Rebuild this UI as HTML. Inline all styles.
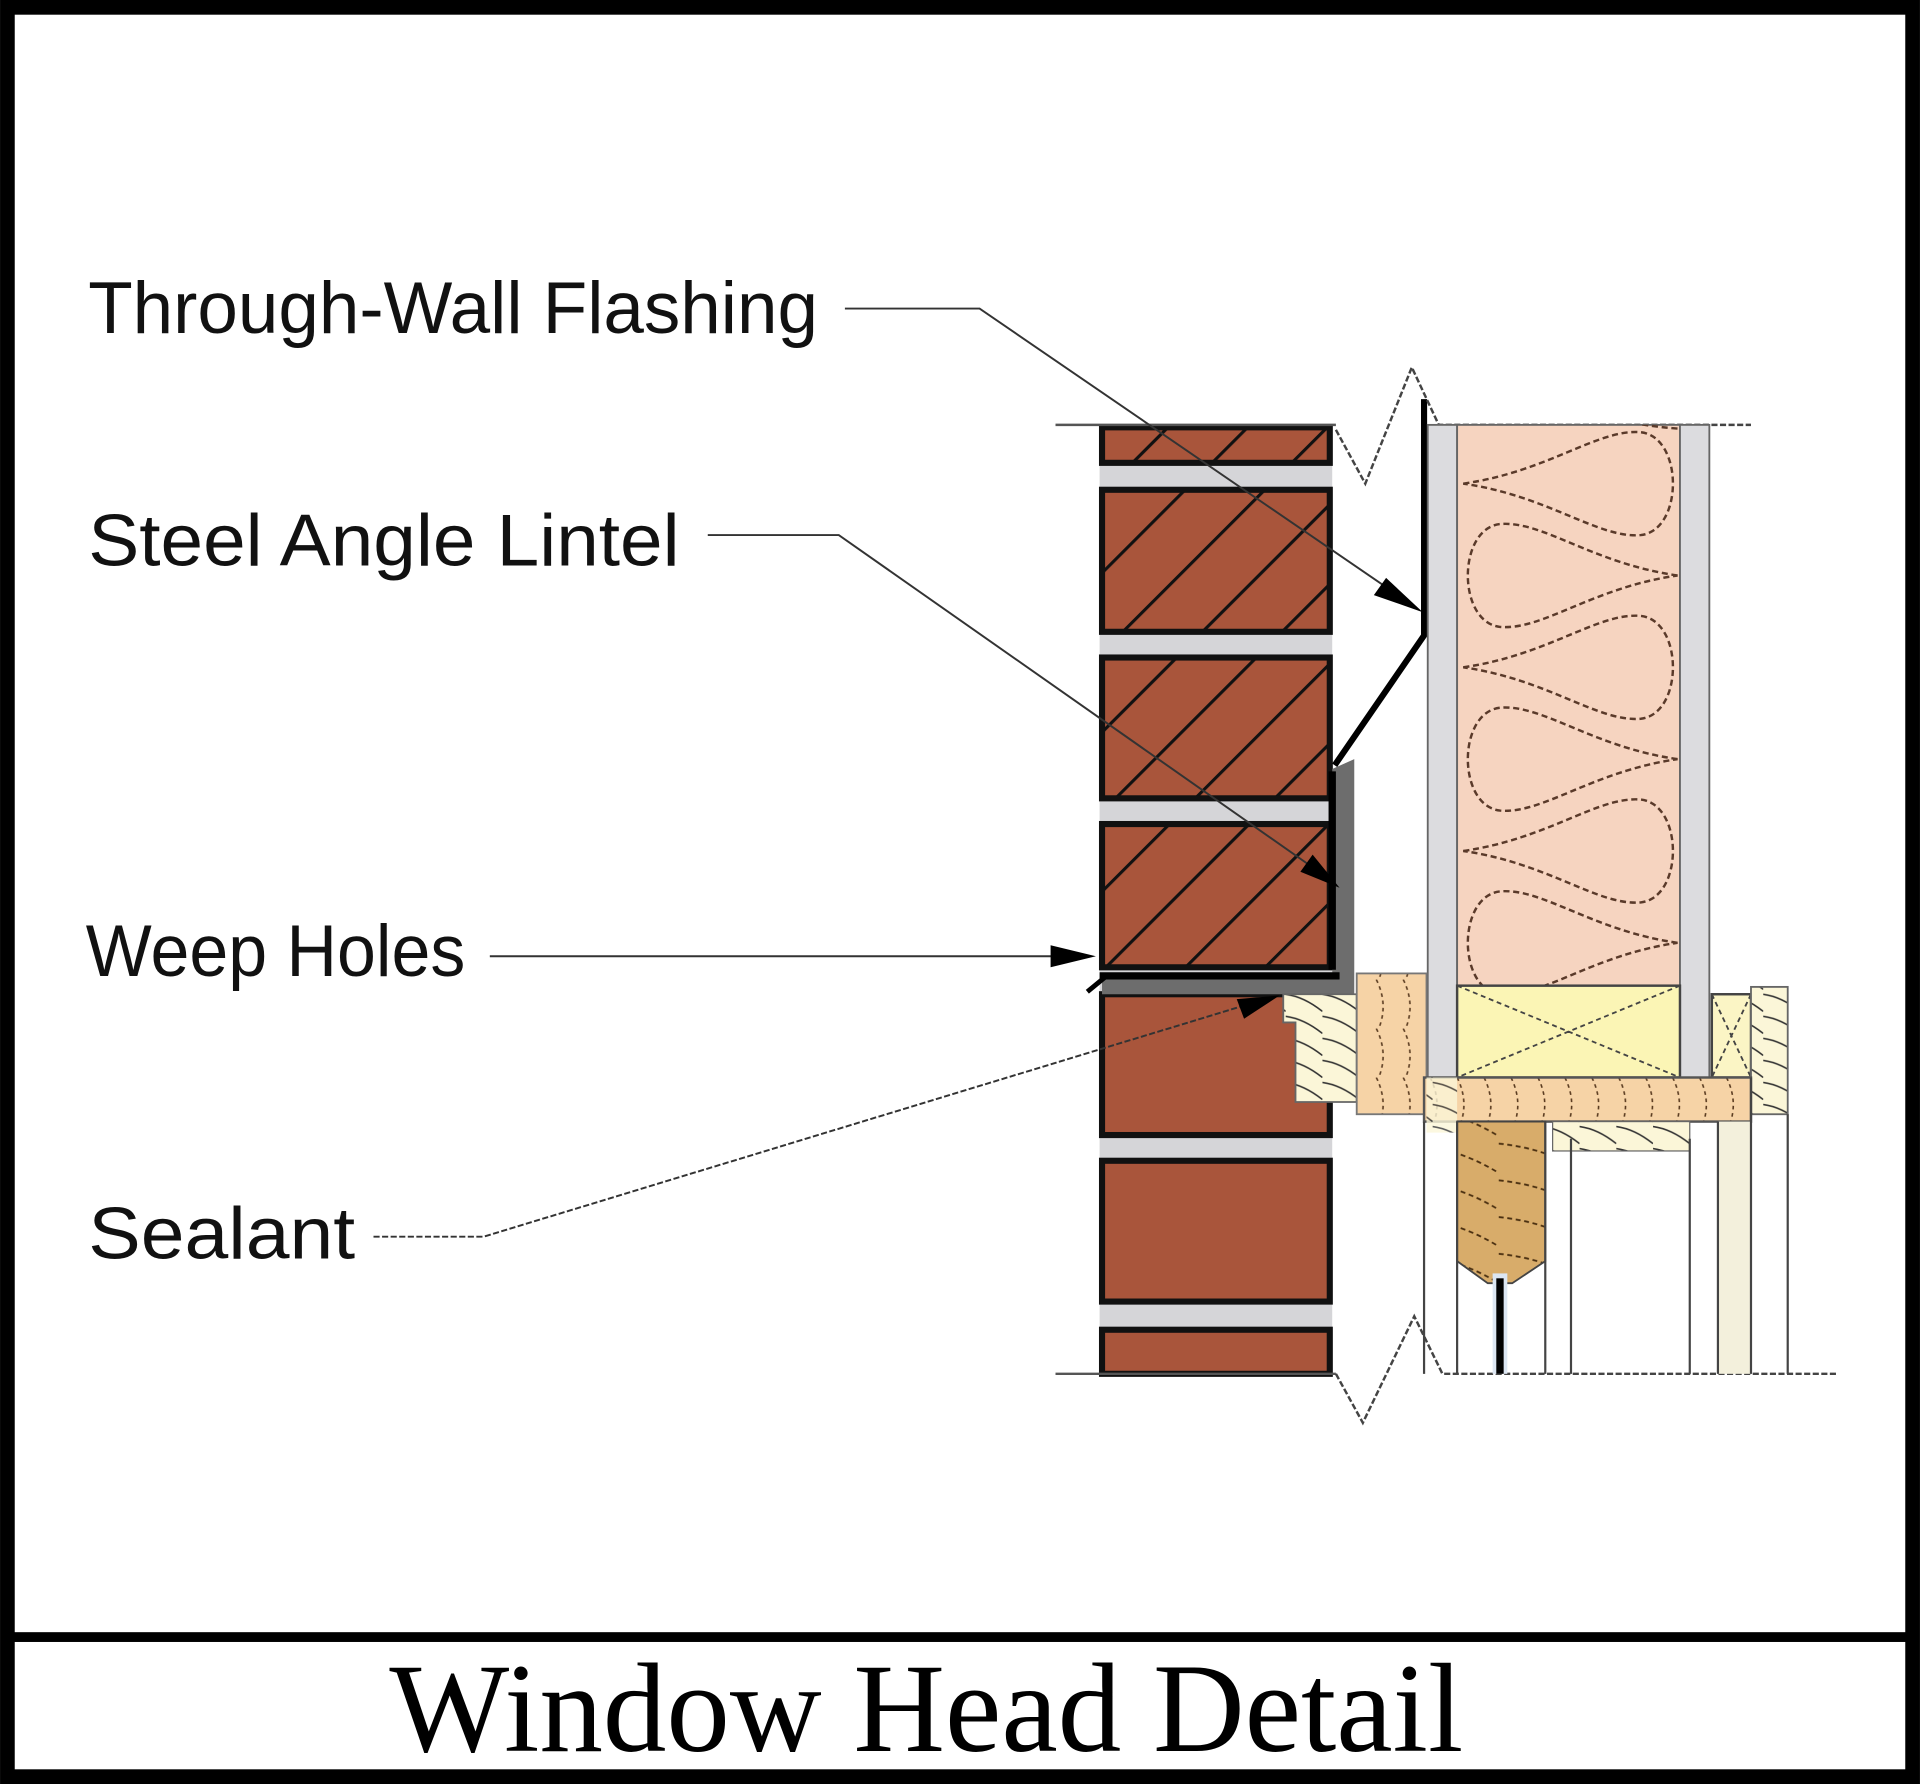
<!DOCTYPE html>
<html><head><meta charset="utf-8"><style>
html,body{margin:0;padding:0;background:#fff;}
svg{display:block;}
</style></head><body>
<svg width="1920" height="1784" viewBox="0 0 1568 1457" xmlns="http://www.w3.org/2000/svg">
<defs>
<pattern id="hatch" patternUnits="userSpaceOnUse" width="46" height="46" patternTransform="rotate(-45 0 0)">
<rect width="46" height="46" fill="#a9553b"/>
<line x1="0" y1="0" x2="46" y2="0" stroke="#111" stroke-width="5"/>
</pattern>
<pattern id="grainO" patternUnits="userSpaceOnUse" width="22" height="40">
<rect width="22" height="40" fill="#f6d3a6"/>
<path d="M2,0 Q12,20 4,40" fill="none" stroke="#5a3b20" stroke-width="1.3" stroke-dasharray="3,3"/>
</pattern>
<pattern id="grainY" patternUnits="userSpaceOnUse" width="30" height="18">
<rect width="30" height="18" fill="#fbf6d8"/>
<path d="M0,2 Q15,4 30,16" fill="none" stroke="#333" stroke-width="1.3"/>
</pattern>
<pattern id="grainT" patternUnits="userSpaceOnUse" width="72" height="30">
<rect width="72" height="30" fill="#d8ac6a"/>
<path d="M0,4 Q40,8 72,28" fill="none" stroke="#4a2f10" stroke-width="1.5" stroke-dasharray="4,3"/>
</pattern>
<clipPath id="ins"><rect x="1190" y="347" width="182" height="458"/></clipPath>
</defs>

<rect x="0" y="0" width="1568" height="1457" fill="#fff"/>
<rect x="6" y="6" width="1556" height="1445" fill="none" stroke="#000" stroke-width="12"/>
<rect x="10" y="1333" width="1548" height="8" fill="#000"/>

<rect x="898" y="347" width="190" height="775" fill="#d5d5d8"/>
<g stroke="#111" stroke-width="5">
<rect x="900" y="349" width="186" height="29" fill="url(#hatch)"/>
<rect x="900" y="400" width="186" height="116" fill="url(#hatch)"/>
<rect x="900" y="537" width="186" height="115" fill="url(#hatch)"/>
<rect x="900" y="673" width="186" height="117" fill="url(#hatch)"/>
<rect x="900" y="812" width="186" height="115" fill="#a9553b"/>
<rect x="900" y="948" width="186" height="115" fill="#a9553b"/>
<rect x="900" y="1086" width="186" height="36" fill="#a9553b"/>
</g>
<path d="M1088,628 L1106,620 L1106,812 L900,812 L900,797 L1088,797 Z" fill="#6d6d6d"/>
<path d="M1088,792 L1088,630" stroke="#000" stroke-width="6"/>
<path d="M1163,326 L1163,519 L1090,625" fill="none" stroke="#000" stroke-width="5"/>
<path d="M898,797 L1094,797" stroke="#000" stroke-width="6"/>
<path d="M888,810 L905,796" stroke="#000" stroke-width="4"/>
<line x1="862" y1="347" x2="1091" y2="347" stroke="#555" stroke-width="2"/>
<line x1="862" y1="1122" x2="1091" y2="1122" stroke="#555" stroke-width="2"/>

<path d="M1091,351 L1115,395 L1153,300 L1175,347 L1430,347" fill="none" stroke="#444" stroke-width="2" stroke-dasharray="5,2"/>
<path d="M1091,1122 L1113,1162 L1155,1075 L1178,1122 L1500,1122" fill="none" stroke="#444" stroke-width="2" stroke-dasharray="5,2"/>

<rect x="1166" y="347" width="24" height="533" fill="#dcdcdf" stroke="#666" stroke-width="1.5"/>
<rect x="1190" y="347" width="182" height="460" fill="#f6d4c0" stroke="#666" stroke-width="1.5"/>
<rect x="1372" y="347" width="24" height="533" fill="#dcdcdf" stroke="#666" stroke-width="1.5"/>
<g fill="none" stroke="#5a3a2a" stroke-width="2" stroke-dasharray="5,3" clip-path="url(#ins)">
<path d="M1195,370 C1265,360 1305,325 1340,328 C1375,332 1375,408 1340,412 C1305,415 1265,380 1195,370 Z" transform="translate(0,25)"/>
<path d="M1370,470 C1300,460 1260,425 1225,428 C1190,432 1190,508 1225,512 C1260,515 1300,480 1370,470 Z"/>
<path d="M1195,545 C1265,535 1305,500 1340,503 C1375,507 1375,583 1340,587 C1305,590 1265,555 1195,545 Z"/>
<path d="M1370,620 C1300,610 1260,575 1225,578 C1190,582 1190,658 1225,662 C1260,665 1300,630 1370,620 Z"/>
<path d="M1195,695 C1265,685 1305,650 1340,653 C1375,657 1375,733 1340,737 C1305,740 1265,705 1195,695 Z"/>
<path d="M1370,770 C1300,760 1260,725 1225,728 C1190,732 1190,808 1225,812 C1260,815 1300,780 1370,770 Z"/>
<path d="M1370,350 C1300,345 1260,320 1225,322"/>
</g>

<rect x="1190" y="805" width="182" height="75" fill="#fbf5b5" stroke="#444" stroke-width="2"/>
<path d="M1190,805 L1372,880 M1372,805 L1190,880" stroke="#444" stroke-width="1.5" stroke-dasharray="4,3"/>
<rect x="1398" y="812" width="32" height="68" fill="#fbf5c5" stroke="#444" stroke-width="2"/>
<path d="M1398,812 L1430,880 M1430,812 L1398,880" stroke="#444" stroke-width="1.5" stroke-dasharray="4,3"/>
<rect x="1430" y="806" width="30" height="104" fill="url(#grainY)" stroke="#666" stroke-width="1.5"/>

<path d="M1048,812 L1108,812 L1108,900 L1058,900 L1058,835 L1048,835 Z" fill="url(#grainY)" stroke="#666" stroke-width="1.5"/>
<rect x="1108" y="795" width="57" height="115" fill="url(#grainO)" stroke="#777" stroke-width="1.5"/>
<rect x="1163" y="880" width="267" height="36" fill="url(#grainO)" stroke="#555" stroke-width="2"/>
<rect x="1165" y="880" width="25" height="45" fill="url(#grainY)" opacity="0.8"/>
<rect x="1268" y="916" width="112" height="24" fill="url(#grainY)" stroke="#666" stroke-width="1"/>
<path d="M1190,916 L1262,916 L1262,1030 L1235,1048 L1215,1048 L1190,1030 Z" fill="url(#grainT)" stroke="#444" stroke-width="1.5"/>
<rect x="1403" y="916" width="27" height="206" fill="#f3f0dc"/>
<g stroke="#444" stroke-width="1.8">
<line x1="1163" y1="916" x2="1163" y2="1122"/>
<line x1="1190" y1="916" x2="1190" y2="1122"/>
<line x1="1262" y1="916" x2="1262" y2="1122"/>
<line x1="1283" y1="930" x2="1283" y2="1122"/>
<line x1="1380" y1="930" x2="1380" y2="1122"/>
<line x1="1403" y1="916" x2="1403" y2="1122"/>
<line x1="1430" y1="880" x2="1430" y2="1122"/>
<line x1="1460" y1="910" x2="1460" y2="1122"/>
</g>
<rect x="1219" y="1040" width="12" height="82" fill="#dce6f2"/>
<rect x="1222" y="1044" width="6" height="78" fill="#000"/>

<g fill="none" stroke="#333" stroke-width="1.6">
<path d="M690,252 L800,252 L1140,485"/>
<path d="M578,437 L685,437 L1080,714"/>
<path d="M400,781 L870,781"/>
<path d="M305,1010 L395,1010 L1020,820" stroke-dasharray="5,2"/>
</g>
<g fill="#000">
<polygon points="1162,500 1122,486 1132,472"/>
<polygon points="1094,725 1062,712 1072,698"/>
<polygon points="895,781 858,772 858,790"/>
<polygon points="1045,813 1010,816 1016,832"/>
</g>

<g font-family="'Liberation Sans', sans-serif" font-size="60" fill="#111">
<text x="72" y="272" textLength="596" lengthAdjust="spacingAndGlyphs">Through-Wall Flashing</text>
<text x="72" y="462" textLength="483" lengthAdjust="spacingAndGlyphs">Steel Angle Lintel</text>
<text x="70" y="797" textLength="310" lengthAdjust="spacingAndGlyphs">Weep Holes</text>
<text x="72" y="1028" textLength="218" lengthAdjust="spacingAndGlyphs">Sealant</text>
</g>
<text x="318" y="1430" font-family="'Liberation Serif', serif" font-size="104" fill="#000" textLength="877" lengthAdjust="spacingAndGlyphs">Window Head Detail</text>
</svg>
</body></html>
